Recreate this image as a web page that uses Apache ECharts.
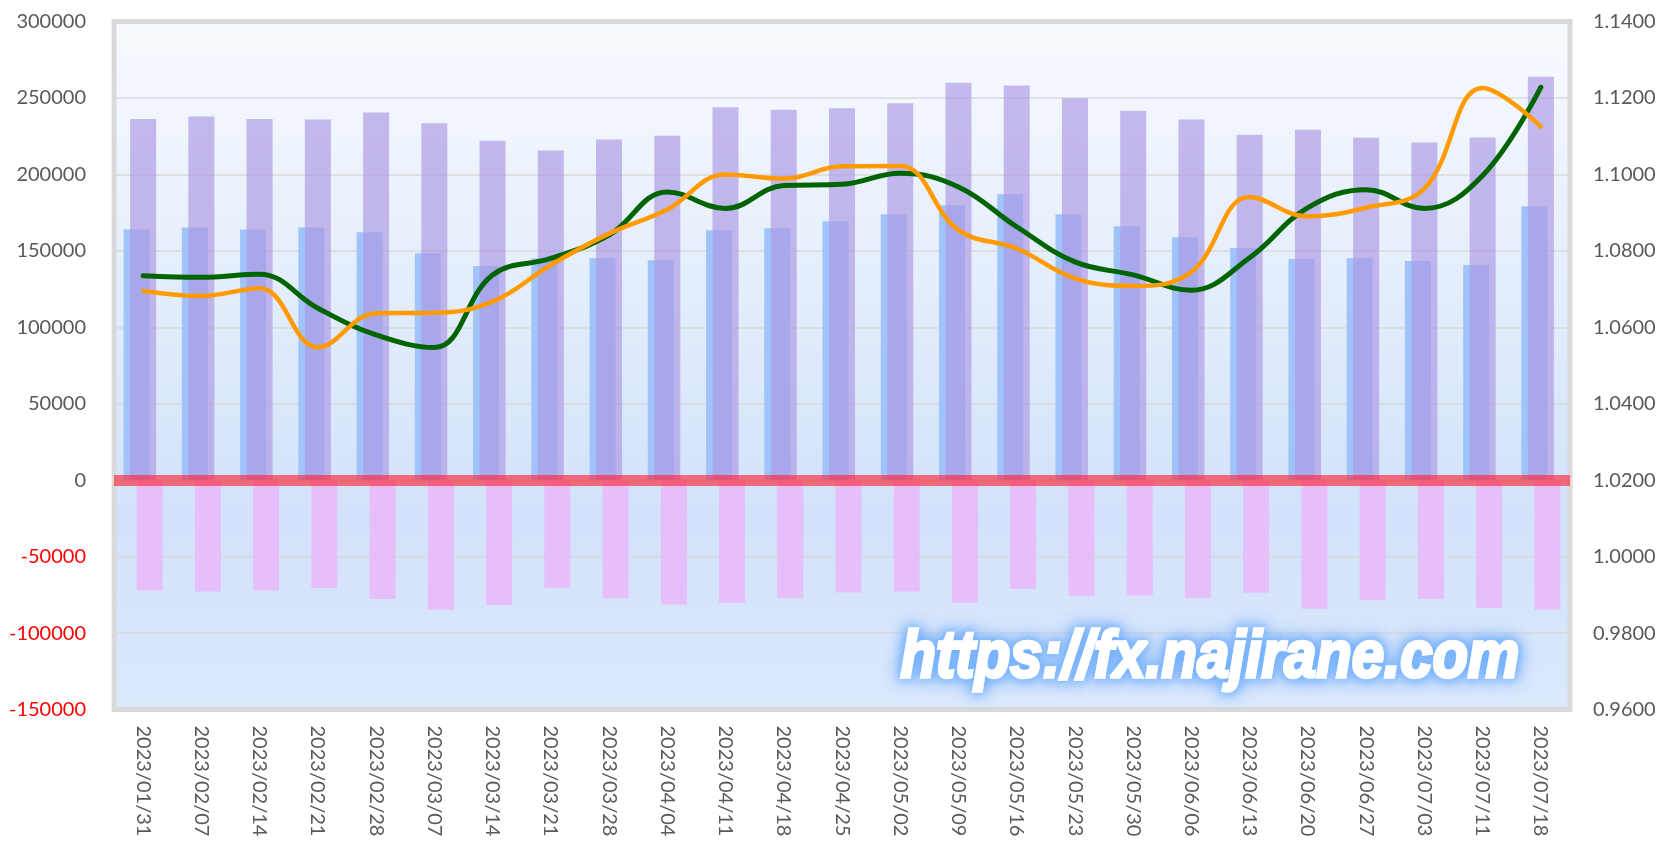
<!DOCTYPE html>
<html>
<head>
<meta charset="utf-8">
<script src="https://cdn.jsdelivr.net/npm/echarts@6/dist/echarts.min.js"></script>
<style>
html,body{margin:0;padding:0;background:#ffffff;}
#chart{width:1679px;height:842px;}
</style>
</head>
<body>
<div id="chart"></div>
<script>
const categories = ['2023/01/31','2023/02/07','2023/02/14','2023/02/21','2023/02/28','2023/03/07','2023/03/14','2023/03/21','2023/03/28','2023/04/04','2023/04/11','2023/04/18','2023/04/25','2023/05/02','2023/05/09','2023/05/16','2023/05/23','2023/05/30','2023/06/06','2023/06/13','2023/06/20','2023/06/27','2023/07/03','2023/07/11','2023/07/18'];
const longPositions = [163900,165300,163900,165300,162200,148500,140000,145200,145200,143900,163500,164800,169400,173900,179800,187000,173900,166100,158900,151800,144600,145200,143300,140700,179100];
const shortPositions = [236300,237800,236300,235900,240400,233500,222000,215700,222800,225200,243900,242200,243300,246500,260000,258200,249800,241600,235900,225900,229200,223900,220900,224100,263900];
const netPositions = [-72100,-72800,-72100,-70600,-77800,-84800,-81700,-70400,-77300,-81300,-80200,-77300,-73400,-72800,-80200,-71100,-75600,-75400,-77000,-73700,-84100,-78300,-77600,-83500,-84800];
const greenRate = [1.0735,1.0731,1.0739,1.0650,1.0580,1.0547,1.0737,1.0780,1.0841,1.0954,1.0911,1.0971,1.0974,1.1003,1.0967,1.0863,1.0771,1.0737,1.0697,1.0782,1.0913,1.0960,1.0911,1.0997,1.1228];
const orangeRate = [1.0695,1.0682,1.0702,1.0548,1.0637,1.0638,1.0667,1.0763,1.0845,1.0908,1.1000,1.0989,1.1021,1.1022,1.0854,1.0806,1.0728,1.0708,1.0745,1.0941,1.0890,1.0913,1.0963,1.1226,1.1125];
const leftAxis = {min:-150000, max:300000, interval:50000};
const rightAxis = {min:0.96, max:1.14, interval:0.02};
const watermark = 'https://fx.najirane.com';

const FONT = 'Lato, "Open Sans", sans-serif';
const WM_FONT = 'italic 900 58px "Liberation Sans", Arial, sans-serif';
const chart = echarts.init(document.getElementById('chart'), null, {renderer:'canvas'});
chart.setOption({
  animation:false,
  backgroundColor:'#ffffff',
  grid:{
    left:114, right:109, top:21.5, bottom:132.5,
    show:true, borderColor:'#d9d9d9', borderWidth:5,
    backgroundColor:{type:'linear',x:0,y:0,x2:0,y2:1,colorStops:[
      {offset:0,color:'#f8fafe'},{offset:0.72,color:'#d2e2fa'},{offset:1,color:'#dbe8fc'}]}
  },
  xAxis:[
    {type:'category', data:categories, gridIndex:0, position:'bottom',
     axisLine:{show:false,onZero:false}, axisTick:{show:false},
     axisLabel:{interval:0, rotate:-90, margin:16, color:'#595959', fontSize:20, fontFamily:FONT},
     splitLine:{show:false}},
    {type:'category', data:categories, gridIndex:0, position:'bottom',
     axisLine:{show:true,onZero:true,lineStyle:{color:'#efc9a8',width:1}},
     axisTick:{show:true,length:6,lineStyle:{color:'#efd2b8',width:1.5}},
     axisLabel:{show:false}, splitLine:{show:false}}
  ],
  yAxis:[
    {type:'value', min:leftAxis.min, max:leftAxis.max, interval:leftAxis.interval, position:'left',
     axisLine:{show:false}, axisTick:{show:false},
     splitLine:{show:true,lineStyle:{color:'#d9d9d9',width:1.5}},
     axisLabel:{margin:28, fontSize:20, fontFamily:FONT,
       formatter:function(v){return v<0?'{n|'+v+'}':'{p|'+v+'}';},
       rich:{n:{color:'#ff0000',fontSize:20,fontFamily:FONT},p:{color:'#595959',fontSize:20,fontFamily:FONT}}}},
    {type:'value', min:rightAxis.min, max:rightAxis.max, interval:rightAxis.interval, position:'right',
     axisLine:{show:false}, axisTick:{show:false}, splitLine:{show:false},
     axisLabel:{margin:23, color:'#595959', fontSize:20, fontFamily:FONT,
       formatter:function(v){return v.toFixed(4);}}}
  ],
  series:[
    {name:'long', type:'bar', data:longPositions, xAxisIndex:0, yAxisIndex:0,
     barWidth:26, barGap:'-75%', itemStyle:{color:'#a0c4fa'}, z:2},
    {name:'short', type:'bar', data:shortPositions, xAxisIndex:0, yAxisIndex:0,
     barWidth:26, barGap:'-75%', itemStyle:{color:'rgba(172,152,228,0.66)'}, z:2},
    {name:'net', type:'bar', data:netPositions, xAxisIndex:0, yAxisIndex:0,
     barWidth:26, barGap:'-75%', itemStyle:{color:'#e6befa'}, z:2,
     markLine:{silent:true, symbol:['none','none'], label:{show:false},
       lineStyle:{color:'rgba(255,40,60,0.65)',width:11,type:'solid'},
       data:[{yAxis:0}], z:5}},
    {name:'green', type:'line', data:greenRate, xAxisIndex:0, yAxisIndex:1,
     smooth:0.4, symbol:'none', lineStyle:{color:'#006400',width:5,cap:'round'}, z:6},
    {name:'orange', type:'line', data:orangeRate, xAxisIndex:0, yAxisIndex:1,
     smooth:0.4, symbol:'none', lineStyle:{color:'#ff9a00',width:4.5,cap:'round'}, z:7}
  ],
  graphic:[
    {type:'text', x:1210, y:659, scaleY:1.15, z:98,
     style:{text:watermark, fill:'#ffffff', stroke:'#ffffff', lineWidth:3,
       align:'center', verticalAlign:'middle', font:WM_FONT,
       shadowBlur:18, shadowColor:'rgba(90,160,255,1)',
       textShadowBlur:18, textShadowColor:'rgba(90,160,255,1)'}},
    {type:'text', x:1210, y:659, scaleY:1.15, z:99,
     style:{text:watermark, fill:'#ffffff', stroke:'#ffffff', lineWidth:3,
       align:'center', verticalAlign:'middle', font:WM_FONT,
       shadowBlur:10, shadowColor:'rgba(110,175,255,0.9)',
       textShadowBlur:10, textShadowColor:'rgba(110,175,255,0.9)'}},
    {type:'text', x:1210, y:659, scaleY:1.15, z:100,
     style:{text:watermark, fill:'#ffffff', stroke:'#ffffff', lineWidth:2.5,
       align:'center', verticalAlign:'middle', font:WM_FONT}}
  ]
});
</script>
</body>
</html>
